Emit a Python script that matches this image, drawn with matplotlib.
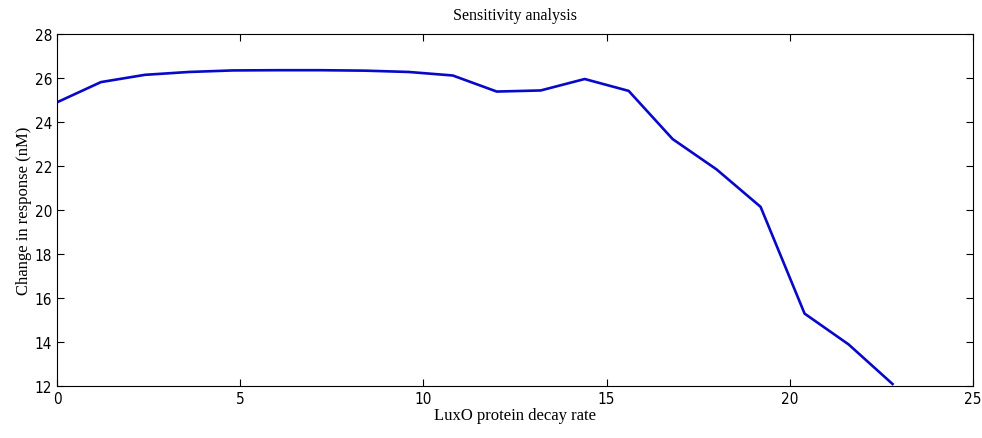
import matplotlib
matplotlib.use("Agg")
import matplotlib.pyplot as plt
import numpy as np

# LuxO decay rate vs change in response
decay_rate = [0, 1.2, 2.4, 3.6, 4.8, 6.0, 7.2, 8.4, 9.6, 10.8,
              12.0, 13.2, 14.4, 15.6, 16.8, 18.0, 19.2, 20.4, 21.6, 22.8]
response = [24.9, 25.82, 26.15, 26.28, 26.35, 26.36, 26.36, 26.34, 26.28, 26.12,
            25.39, 25.44, 25.96, 25.42, 23.23, 21.85, 20.15, 15.3, 13.9, 12.1]
xticks = [0, 5, 10, 15, 20, 25]
yticks = [12, 14, 16, 18, 20, 22, 24, 26, 28]

fig = plt.figure(figsize=(9.82, 4.39), dpi=100)
ax = fig.add_axes([0.058, 0.118, 0.933, 0.802])

ax.plot(decay_rate, response, color="#0808c8", linewidth=1.9)

ax.set_xlim(0, 25)
ax.set_ylim(12, 28)
ax.set_xticks(xticks)
ax.set_yticks(yticks)
ax.tick_params(direction="in", top=True, right=True, length=5, width=0.8,
               labelsize=11)
for lab in ax.get_xticklabels() + ax.get_yticklabels():
    lab.set_family(["Liberation Sans Narrow", "DejaVu Sans"])
    lab.set_stretch("condensed")
for s in ax.spines.values():
    s.set_linewidth(0.8)

serif = ["Liberation Serif", "DejaVu Serif"]
ax.set_title("Sensitivity analysis", family=serif, fontsize=11.5, pad=11)
ax.set_xlabel("LuxO protein decay rate", family=serif, fontsize=12, labelpad=1)
ax.set_ylabel("Change in response (nM)", family=serif, fontsize=12, labelpad=2)

fig.savefig("out.png", dpi=100)
